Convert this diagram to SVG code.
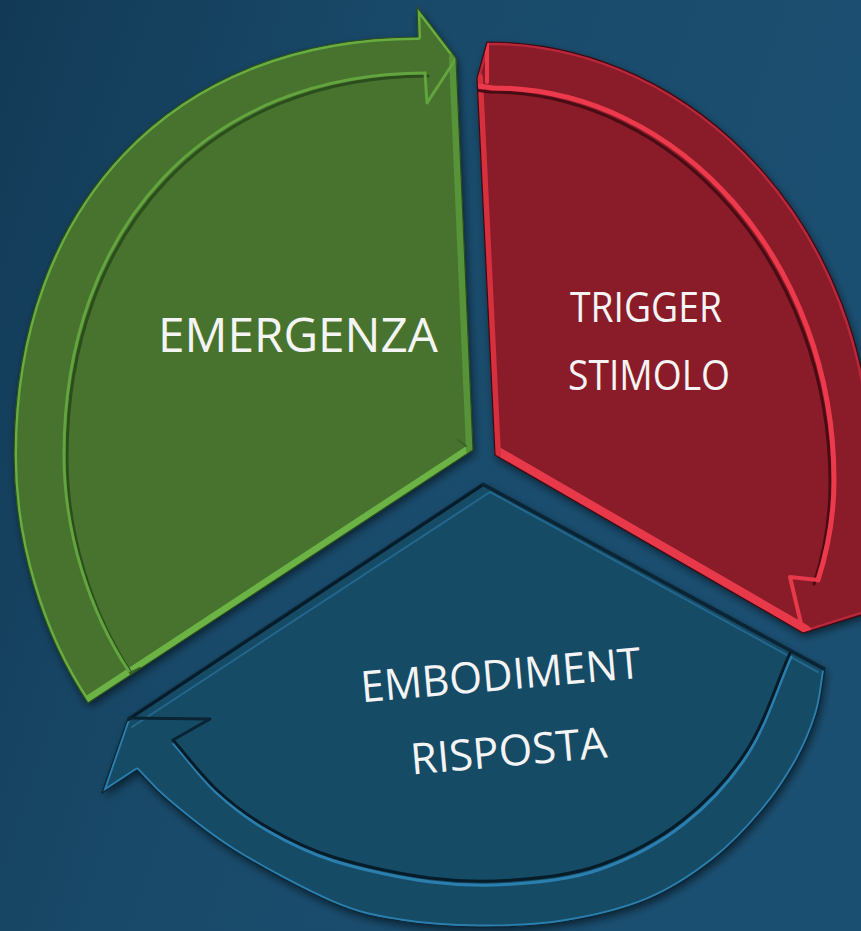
<svg xmlns="http://www.w3.org/2000/svg" xmlns:xlink="http://www.w3.org/1999/xlink" width="861" height="931" viewBox="0 0 861 931">
  <defs>
    <linearGradient id="bg" x1="0" y1="0" x2="1" y2="0.35">
      <stop offset="0" stop-color="#123a56"/>
      <stop offset="0.45" stop-color="#194a6a"/>
      <stop offset="1" stop-color="#1b4f71"/>
    </linearGradient>
    <filter id="drop" x="-10%" y="-10%" width="120%" height="120%">
      <feDropShadow dx="2" dy="4" stdDeviation="4" flood-color="#000" flood-opacity="0.55"/>
    </filter>

    <!-- segment outlines -->
    <path id="gShape" d="M456,58 L473,450 L88,703 C40.4,632.4 14,540 14,455 C14,207 170,37 418,37 L417,7 Z"/>
    <path id="rShape" d="M487,42 C699.6,42 872,233.6 872,470 C872,505 871,535 870,560 L890,606 L803,633 L495,455 L477,78 Z"/>
    <path id="bShape" d="M483,483 L825,668 C822.3,683 821.7,697.7 817,713 C812.3,728.3 806,743.8 797,760 C788,776.2 777,793.3 763,810 C749,826.7 732.3,845 713,860 C693.7,875 672,889.7 647,900 C622,910.3 590.8,917.5 563,922 C535.2,926.5 507.2,927.2 480,927 C452.8,926.8 424.5,925 400,921 C375.5,917 360.8,914.8 333,903 C305.2,891.2 260.7,867.2 233,850 C205.3,832.8 183,813.3 167,800 C151,786.7 147,780 137,770 L102,793 L128,718 Z"/>

    <!-- inner edges of the arrow bands -->
    <path id="gBand" d="M425,73 C208,73 64,226 64,455 C64,530 88.2,610.7 130,673"/>
    <path id="rBand" d="M479,86 L493,88 C681,88 834,264 834,480 C834,520 826,555 818,580"/>
    <path id="bBand" d="M173,740 C187.7,756.7 201.3,775.5 217,790 C232.7,804.5 247.7,815.8 267,827 C286.3,838.2 305.8,848.5 333,857 C360.2,865.5 400,874.2 430,878 C460,881.8 484.7,882.2 513,880 C541.3,877.8 571.7,875 600,865 C628.3,855 658.5,839.2 683,820 C707.5,800.8 729.2,777.8 747,750 C764.8,722.2 775.7,685.3 790,653"/>

    <clipPath id="gClip"><use xlink:href="#gShape"/></clipPath>
    <clipPath id="rClip"><use xlink:href="#rShape"/></clipPath>
    <clipPath id="bClip"><use xlink:href="#bShape"/></clipPath>
  </defs>

  <style>
    .lbl { font-family: "Open Sans", "Noto Sans", "Liberation Sans", sans-serif; fill: #f4f4f4; text-anchor: middle; }
    .line { fill: none; stroke-linejoin: round; stroke-linecap: round; }
    .g-fill { fill: #46732f; }
    .r-fill { fill: #8a1f29; }
    .b-fill { fill: #184b66; }
  </style>

  <rect width="861" height="931" fill="url(#bg)"/>

  <!-- EMERGENZA segment -->
  <g id="emergenza">
    <use xlink:href="#gShape" class="g-fill" filter="url(#drop)"/>
    <g clip-path="url(#gClip)">
      <use xlink:href="#gShape" class="line" stroke="#68ad42" stroke-width="6"/>
      <path class="line" d="M473,450 L88,703" stroke="#6cb346" stroke-width="14"/>
      <path class="line" d="M456,58 L473,450" stroke="#579338" stroke-width="14"/>
      <use xlink:href="#gBand" class="line" stroke="#2c4d1c" stroke-width="3" transform="translate(3,3)"/>
      <use xlink:href="#gBand" class="line" stroke="#62a43d" stroke-width="3"/>
      <path class="line" d="M425,73 L427,103 L455,60" stroke="#62a43d" stroke-width="3"/>
      <path class="line" d="M130,673 L140,668 M466,446 L458,440" stroke="#3a6326" stroke-width="2"/>
    </g>
    <use xlink:href="#gShape" class="line" stroke="#2b4b1b" stroke-width="1.2"/>
    <text class="lbl" x="298" y="352" font-size="48" textLength="280" lengthAdjust="spacingAndGlyphs">EMERGENZA</text>
  </g>

  <!-- TRIGGER / STIMOLO segment -->
  <g id="trigger">
    <use xlink:href="#rShape" class="r-fill" filter="url(#drop)"/>
    <g clip-path="url(#rClip)">
      <use xlink:href="#rShape" class="line" stroke="#b8283a" stroke-width="6"/>
      <path class="line" d="M495,455 L803,633" stroke="#e8394b" stroke-width="18"/>
      <path class="line" d="M477,78 L495,455" stroke="#d6303f" stroke-width="12"/>
      <path class="line" d="M487,42 L487,82" stroke="#e8394b" stroke-width="4"/>
      <use xlink:href="#rBand" class="line" stroke="#4a0c14" stroke-width="3" transform="translate(-4,4)"/>
      <use xlink:href="#rBand" class="line" stroke="#ec3a4c" stroke-width="5"/>
      <path class="line" d="M818,580 L790,577 L803,632" stroke="#e8394b" stroke-width="4"/>
    </g>
    <use xlink:href="#rShape" class="line" stroke="#3d0910" stroke-width="1.2"/>
    <text class="lbl" x="646" y="322" font-size="42" textLength="152" lengthAdjust="spacingAndGlyphs">TRIGGER</text>
    <text class="lbl" x="649" y="390" font-size="42" textLength="162" lengthAdjust="spacingAndGlyphs">STIMOLO</text>
  </g>

  <!-- EMBODIMENT / RISPOSTA segment -->
  <g id="embodiment">
    <use xlink:href="#bShape" class="b-fill" filter="url(#drop)"/>
    <g clip-path="url(#bClip)">
      <use xlink:href="#bShape" class="line" stroke="#2a7fae" stroke-width="5"/>
      <path class="line" d="M483,483 L128,718" stroke="#061a27" stroke-width="6"/>
      <path class="line" d="M483,483 L825,668" stroke="#0a2434" stroke-width="6"/>
      <path class="line" d="M490,492 L132,727 M490,492 L818,672" stroke="#23678f" stroke-width="2"/>
      <use xlink:href="#bBand" class="line" stroke="#2a7fae" stroke-width="3" transform="translate(1,4)"/>
      <use xlink:href="#bBand" class="line" stroke="#071c29" stroke-width="3"/>
      <path class="line" d="M128,718 L210,719 L173,740" stroke="#0a2434" stroke-width="3"/>
      <path class="line" d="M102,793 L137,770" stroke="#2a7fae" stroke-width="3"/>
    </g>
    <use xlink:href="#bShape" class="line" stroke="#0b2535" stroke-width="1.2"/>
    <text class="lbl" x="502" y="690" font-size="43" textLength="281" lengthAdjust="spacingAndGlyphs" transform="rotate(-5 502 690)">EMBODIMENT</text>
    <text class="lbl" x="510" y="766" font-size="43" textLength="197" lengthAdjust="spacingAndGlyphs" transform="rotate(-5 510 766)">RISPOSTA</text>
  </g>
</svg>
